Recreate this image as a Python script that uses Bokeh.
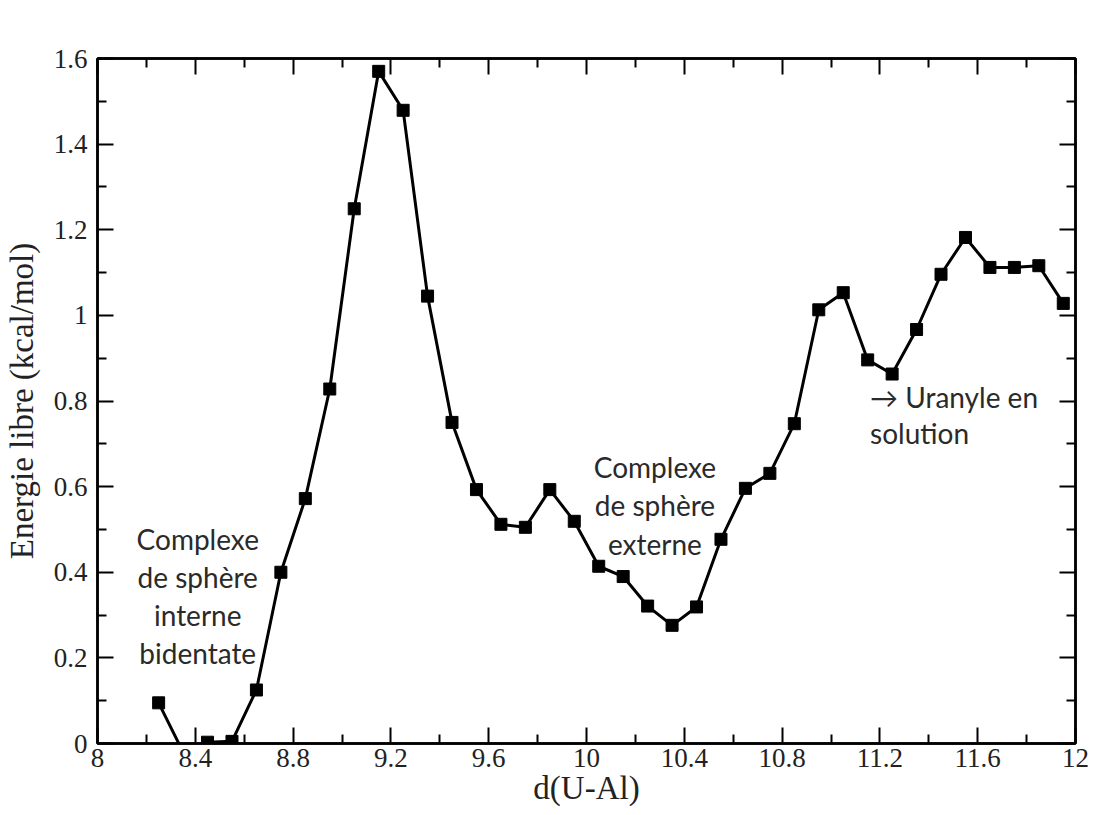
from bokeh.plotting import figure
from bokeh.models import LinearAxis, FixedTicker, Range1d, ColumnDataSource
from bokeh.core.properties import value
from bokeh.embed import file_html
from bokeh.resources import INLINE

# ---------------- data ----------------
distance = [8.25, 8.35, 8.45, 8.55, 8.65, 8.75, 8.85, 8.95, 9.05, 9.15,
            9.25, 9.35, 9.45, 9.55, 9.65, 9.75, 9.85, 9.95, 10.05, 10.15,
            10.25, 10.35, 10.45, 10.55, 10.65, 10.75, 10.85, 10.95, 11.05, 11.15,
            11.25, 11.35, 11.45, 11.55, 11.65, 11.75, 11.85, 11.95]
energy = [0.095, -0.02, 0.003, 0.005, 0.125, 0.400, 0.572, 0.828, 1.249, 1.570,
          1.479, 1.045, 0.750, 0.593, 0.512, 0.505, 0.593, 0.519, 0.414, 0.390,
          0.321, 0.276, 0.319, 0.477, 0.596, 0.631, 0.747, 1.013, 1.053, 0.896,
          0.863, 0.967, 1.096, 1.182, 1.112, 1.112, 1.116, 1.028]

x_ticks = [8, 8.4, 8.8, 9.2, 9.6, 10, 10.4, 10.8, 11.2, 11.6, 12]
x_tick_labels = ["8", "8.4", "8.8", "9.2", "9.6", "10", "10.4", "10.8", "11.2", "11.6", "12"]
x_minor = [8.2, 8.6, 9.0, 9.4, 9.8, 10.2, 10.6, 11.0, 11.4, 11.8]

y_ticks = [0, 0.2, 0.4, 0.6, 0.8, 1.0, 1.2, 1.4, 1.6]
y_tick_labels = ["0", "0.2", "0.4", "0.6", "0.8", "1", "1.2", "1.4", "1.6"]
y_minor = [0.1, 0.3, 0.5, 0.7, 0.9, 1.1, 1.3, 1.5]

annot_text = ["Complexe", "de sphère", "interne", "bidentate",
              "Complexe", "de sphère", "externe",
              "→ Uranyle en", "solution"]
annot_x = [8.41, 8.41, 8.41, 8.41, 10.28, 10.28, 10.28, 11.16, 11.16]
annot_y = [0.477, 0.390, 0.300, 0.212, 0.646, 0.556, 0.465, 0.809, 0.725]
annot_align = ["center"] * 7 + ["left"] * 2

x_label = "d(U-Al)"
y_label = "Energie libre (kcal/mol)"

# ---------------- figure ----------------
p = figure(width=1094, height=815, output_backend="svg", toolbar_location=None,
           x_range=Range1d(8, 12), y_range=Range1d(0, 1.6),
           min_border_left=97, min_border_right=19, min_border_top=58, min_border_bottom=72,
           background_fill_color="white", border_fill_color="white")
p.xgrid.visible = False
p.ygrid.visible = False
p.outline_line_color = "black"
p.outline_line_width = 2.5

xt = FixedTicker(ticks=x_ticks, minor_ticks=x_minor)
yt = FixedTicker(ticks=y_ticks, minor_ticks=y_minor)

def style_axis(ax, ticker, labels_map, show_labels):
    ax.ticker = ticker
    ax.axis_line_color = "black"
    ax.axis_line_width = 2.5
    ax.major_tick_line_color = "black"
    ax.major_tick_line_width = 2
    ax.minor_tick_line_color = "black"
    ax.minor_tick_line_width = 2
    ax.major_tick_in = 16
    ax.major_tick_out = 0
    ax.minor_tick_in = 9
    ax.minor_tick_out = 0
    if show_labels:
        ax.major_label_overrides = labels_map
        ax.major_label_text_font = "Liberation Serif"
        ax.major_label_text_font_size = "27px"
        ax.major_label_text_color = "#222222"
        ax.axis_label_text_font = "Liberation Serif"
        ax.axis_label_text_font_size = "33px"
        ax.axis_label_text_font_style = "normal"
        ax.axis_label_text_color = "#222222"
    else:
        ax.major_label_overrides = {k: "" for k in labels_map}
        ax.major_label_text_font_size = "0px"
        ax.major_label_standoff = 0

xmap = dict(zip(x_ticks, x_tick_labels))
ymap = dict(zip(y_ticks, y_tick_labels))

style_axis(p.xaxis[0], xt, xmap, True)
style_axis(p.yaxis[0], yt, ymap, True)
p.xaxis[0].axis_label = x_label
p.yaxis[0].axis_label = y_label
p.xaxis[0].major_label_standoff = 5
p.xaxis[0].axis_label_standoff = 0
p.yaxis[0].major_label_standoff = 10
p.yaxis[0].axis_label_standoff = 11

top_ax = LinearAxis()
right_ax = LinearAxis()
style_axis(top_ax, xt, xmap, False)
style_axis(right_ax, yt, ymap, False)
p.add_layout(top_ax, "above")
p.add_layout(right_ax, "right")

src = ColumnDataSource(data=dict(x=distance, y=energy))
p.line("x", "y", source=src, line_color="black", line_width=3)
p.scatter("x", "y", source=src, marker="square", size=12,
          fill_color="black", line_color="black")

asrc = ColumnDataSource(data=dict(x=annot_x, y=annot_y, t=annot_text, a=annot_align))
p.text("x", "y", text="t", source=asrc, text_align="a", text_baseline="middle",
       text_font=value("Lato"), text_font_size="28px", text_color="#2a2a2a")

open("out.html", "w").write(file_html(p, INLINE))
